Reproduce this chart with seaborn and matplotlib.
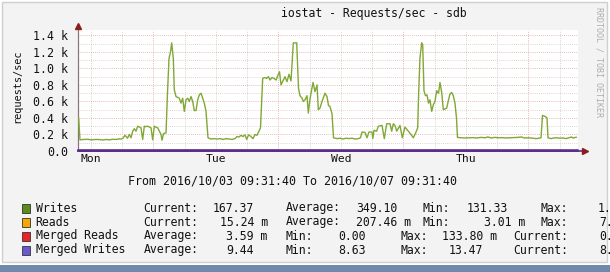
import numpy as np
import pandas as pd
import matplotlib
matplotlib.use("Agg")
import matplotlib.pyplot as plt
import matplotlib.dates as mdates
from matplotlib.ticker import FuncFormatter, MultipleLocator
from matplotlib.patches import Rectangle
import seaborn as sns

# ---------------- data ----------------
start = pd.Timestamp("2016-10-03 09:31:40")
span_hours = 96

writes_hours = [
    0.13, 0.38, 1.15, 1.92, 2.50, 3.46, 4.22, 4.80, 5.38, 5.95, 6.72, 7.30, 7.87, 8.26, 8.64,
    9.02, 9.50, 9.85, 10.18, 10.50, 10.81, 11.14, 11.46, 11.81, 12.10, 12.42, 12.73, 13.06,
    13.38, 13.73, 14.02, 14.34, 14.65, 14.98, 15.30, 15.61, 15.94, 16.13, 16.42, 16.90, 17.18,
    17.47, 17.76, 17.99, 18.30, 18.49, 18.82, 19.14, 19.45, 19.78, 20.10, 20.41, 20.74, 21.06,
    21.37, 21.70, 22.02, 22.33, 22.66, 22.98, 23.29, 23.62, 23.94, 24.25, 24.58, 24.96, 25.54,
    26.11, 26.69, 27.26, 27.84, 28.42, 28.99, 29.57, 30.14, 30.53, 30.91, 31.30, 31.68, 32.06,
    32.39, 32.74, 33.12, 33.60, 33.98, 34.37, 34.75, 35.04, 35.46, 35.81, 36.19, 36.58, 36.86,
    37.25, 37.63, 38.02, 38.40, 38.69, 38.98, 39.36, 39.74, 40.13, 40.51, 40.90, 41.34, 41.99,
    42.34, 42.62, 43.01, 43.26, 43.58, 43.97, 44.22, 44.54, 45.12, 45.50, 45.89, 46.14, 46.46,
    46.85, 47.42, 47.81, 48.10, 48.38, 48.77, 49.06, 49.73, 50.30, 50.88, 51.46, 52.03, 52.61,
    53.18, 53.76, 54.24, 54.53, 55.10, 55.49, 55.87, 56.45, 56.60, 56.83, 57.34, 57.66, 58.37,
    58.81, 59.27, 59.90, 60.23, 60.54, 60.86, 61.19, 61.82, 62.27, 62.78, 63.42, 63.94, 64.38,
    64.84, 65.22, 65.41, 65.66, 65.99, 66.18, 66.43, 66.72, 67.01, 67.30, 67.58, 67.91, 68.22,
    68.54, 68.87, 69.22, 69.50, 69.83, 70.14, 70.46, 70.79, 71.14, 71.42, 71.75, 72.06, 72.38,
    72.67, 72.86, 73.54, 74.30, 75.07, 75.84, 76.61, 77.38, 78.14, 78.72, 79.30, 80.06, 80.64,
    81.41, 82.18, 82.94, 83.71, 84.48, 85.15, 85.63, 86.40, 87.17, 87.94, 88.51, 88.90, 89.18,
    89.66, 90.05, 90.24, 90.82, 91.39, 91.97, 92.54, 93.12, 93.70, 94.27, 94.75, 95.04, 95.71,
]
writes_values = [
    400, 135, 140, 142, 135, 140, 138, 133, 140, 135, 142, 140, 146, 145, 155,
    190, 155, 200, 160, 240, 270, 240, 300, 290, 280, 140, 300, 295,
    300, 290, 280, 135, 300, 290, 280, 240, 200, 130, 210, 220, 700,
    1120, 1200, 1310, 1120, 740, 660, 650, 640, 580, 640, 480, 620, 640,
    600, 660, 600, 490, 490, 620, 680, 700, 640, 580, 480, 160, 145,
    150, 145, 150, 140, 150, 145, 140, 150, 175, 170, 190, 175, 195,
    140, 195, 180, 150, 200, 190, 240, 280, 880, 890, 880, 900, 860,
    890, 880, 860, 920, 960, 800, 850, 900, 840, 930, 850, 1310, 1310,
    760, 670, 640, 600, 620, 670, 460, 630, 830, 720, 800, 500, 520,
    600, 700, 660, 550, 540, 450, 160, 150, 155, 145, 155, 150, 155,
    145, 150, 160, 230, 225, 160, 230, 230, 150, 250, 240, 300, 310,
    150, 330, 330, 240, 330, 310, 240, 310, 160, 290, 240, 200, 160,
    220, 280, 710, 1130, 1310, 1290, 730, 670, 680, 580, 620, 480, 560,
    600, 730, 700, 830, 710, 500, 510, 520, 620, 690, 710, 670, 580,
    400, 165, 160, 158, 160, 162, 158, 165, 160, 170, 158, 165, 160,
    162, 158, 160, 162, 165, 170, 158, 160, 156, 150, 155, 160, 430,
    420, 400, 160, 150, 158, 160, 155, 158, 150, 160, 170, 158, 167,
]

reads_hours = [0, 24, 48, 72, 96]
reads_values = [0.21, 0.30, 0.18, 0.10, 0.015]
merged_reads_hours = [0, 24, 48, 72, 96]
merged_reads_values = [0.0, 0.004, 0.0, 0.002, 0.0]
merged_writes_hours = [0, 24, 48, 72, 96]
merged_writes_values = [9.3, 9.8, 9.4, 9.6, 8.9]

ytick_values = [0, 200, 400, 600, 800, 1000, 1200, 1400]
y_top = 1466

title = "iostat - Requests/sec - sdb"
ylabel = "requests/sec"
range_text = "From 2016/10/03 09:31:40 To 2016/10/07 09:31:40"
side_text = "RRDTOOL / TOBI OETIKER"

legend_names = ["Writes", "Reads", "Merged Reads", "Merged Writes"]
legend_colors = ["#5E8C1A", "#F5A800", "#E8232B", "#6A5ACD"]
legend_rows = [
    [("Current:", 144.1), ("167.37", 213.4), ("Average:", 286.3), ("349.10", 356.4),
     ("Min:", 422.6), ("131.33", 467.4), ("Max:", 541.4), ("1.", 597.9)],
    [("Current:", 144.1), ("15.24 m", 220.0), ("Average:", 286.3), ("207.46 m", 356.4),
     ("Min:", 422.6), ("3.01 m", 485.0), ("Max:", 541.4), ("7.", 599.5)],
    [("Average:", 144.1), ("3.59 m", 227.0), ("Min:", 286.3), ("0.00", 338.9),
     ("Max:", 401.2), ("133.80 m", 442.0), ("Current:", 514.0), ("0.", 599.5)],
    [("Average:", 144.1), ("9.44", 227.0), ("Min:", 286.3), ("8.63", 338.9),
     ("Max:", 401.2), ("13.47", 448.7), ("Current:", 514.0), ("8.", 599.5)],
]
legend_y = [208, 222, 236, 250]

# ---------------- style ----------------
sns.set_theme(style="white")
plt.rcParams["font.family"] = ["DejaVu Sans Mono", "DejaVu Sans"]

W, H = 610, 272
fig = plt.figure(figsize=(W / 100, H / 100), dpi=100, facecolor="white")

def fx(px):
    return px / W

def fy(py):
    return 1 - py / H

# canvas and bottom band
fig.patches.append(Rectangle((fx(2), fy(262)), fx(605), 260 / H, transform=fig.transFigure,
                             facecolor="#F3F3F3", edgecolor="#CFCFCF", lw=1.0, zorder=-10))
fig.patches.append(Rectangle((0, 0), 1, 7 / H, transform=fig.transFigure,
                             facecolor="#6F89AE", edgecolor="none", zorder=-10))

ax = fig.add_axes([fx(78), fy(151), 500 / W, 121 / H])
ax.set_zorder(1)
ax.set_facecolor("white")

def frame(hours, values):
    return pd.DataFrame({"time": start + pd.to_timedelta(hours, unit="h"), "value": values})

sns.lineplot(data=frame(writes_hours, writes_values), x="time", y="value", ax=ax,
             color="#80A834", lw=1.0, zorder=3)
sns.lineplot(data=frame(reads_hours, reads_values), x="time", y="value", ax=ax,
             color="#F5A800", lw=1.0, zorder=3)
sns.lineplot(data=frame(merged_reads_hours, merged_reads_values), x="time", y="value", ax=ax,
             color="#E8232B", lw=1.0, zorder=3)
sns.lineplot(data=frame(merged_writes_hours, merged_writes_values), x="time", y="value", ax=ax,
             color="#5B2C8C", lw=1.5, zorder=4, clip_on=False)

ax.set_xlim(start, start + pd.Timedelta(hours=span_hours))
ax.set_ylim(0, y_top)
ax.set_xlabel("")
ax.set_ylabel("")

# x grid / labels
ax.xaxis.set_major_locator(mdates.HourLocator(byhour=[0]))
ax.xaxis.set_minor_locator(mdates.HourLocator(byhour=[6, 12, 18]))
ax.xaxis.set_major_formatter(FuncFormatter(lambda v, p: ""))

def minor_fmt(v, p):
    d = mdates.num2date(v)
    return d.strftime("%a") if d.hour == 12 else ""

ax.xaxis.set_minor_formatter(FuncFormatter(minor_fmt))

# y grid / labels
ax.set_yticks(ytick_values)
ax.yaxis.set_minor_locator(MultipleLocator(100))
ax.yaxis.set_major_formatter(FuncFormatter(lambda v, p: "0.0" if v == 0 else f"{v / 1000:.1f} k"))

ax.grid(which="major", axis="both", color="#E3A2A2", ls=(0, (1, 1.5)), lw=0.6)
ax.grid(which="minor", axis="x", color="#C9C9C9", ls=(0, (1, 1.5)), lw=0.6)
ax.grid(which="minor", axis="y", color="#DCC4C4", ls=(0, (1, 1.5)), lw=0.6)
ax.set_axisbelow(True)

ax.tick_params(axis="y", which="major", length=2, width=0.6, color="#999999", pad=5,
               labelsize=8.4, labelcolor="#111111")
ax.tick_params(axis="y", which="minor", length=0)
ax.tick_params(axis="x", which="both", length=0, pad=2, labelsize=8.2, labelcolor="#111111")

for s in ["top", "right"]:
    ax.spines[s].set_visible(False)
ax.spines["left"].set_color("#857575")
ax.spines["left"].set_linewidth(0.8)
ax.spines["bottom"].set_color("#5B2C8C")
ax.spines["bottom"].set_linewidth(1.2)

# axis arrows
ax.plot([0, 0], [0, 1.03], transform=ax.transAxes, color="#857575", lw=0.8, clip_on=False)
ax.plot([0, 1.012], [0, 0], transform=ax.transAxes, color="#5B2C8C", lw=1.2, clip_on=False)
ax.plot([0], [1.035], marker="^", ms=4, color="#8B1E1E", transform=ax.transAxes, clip_on=False)
ax.plot([1.014], [0], marker=">", ms=4, color="#8B1E1E", transform=ax.transAxes, clip_on=False)

# texts
fig.text(fx(374), fy(14), title, ha="center", va="center", size=8.3, color="#111111")
fig.text(fx(17.5), fy(86), ylabel, ha="center", va="center", rotation=90, size=7.4,
         color="#111111")
fig.text(fx(292), fy(181), range_text, ha="center", va="center", size=8.4, color="#111111")
fig.text(fx(599.5), fy(62), side_text, ha="center", va="center", rotation=270, size=6.0,
         color="#AEAEAE")

# legend
for name, col, row, yy in zip(legend_names, legend_colors, legend_rows, legend_y):
    fig.patches.append(Rectangle((fx(21.5), fy(yy + 4.5)), 8.5 / W, 8.5 / H,
                                 transform=fig.transFigure, facecolor=col,
                                 edgecolor="#333333", lw=0.6, zorder=2))
    fig.text(fx(35.5), fy(yy), name, ha="left", va="center", size=8.3, color="#111111")
    for txt, xx in row:
        fig.text(fx(xx - 0.5), fy(yy), txt, ha="left", va="center", size=8.3, color="#111111")

fig.savefig("out.png", dpi=100, facecolor="white")
